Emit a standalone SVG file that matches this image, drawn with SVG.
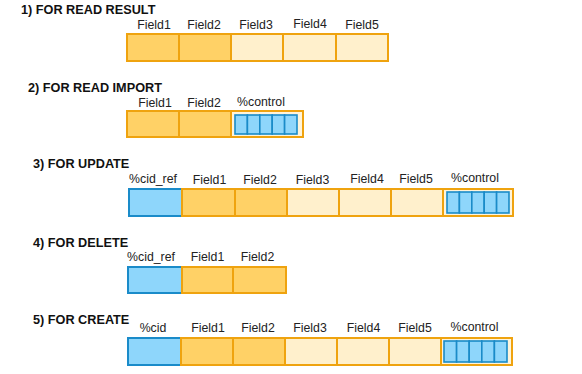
<svg xmlns="http://www.w3.org/2000/svg" width="582" height="374" viewBox="0 0 582 374">
<style>
  .title { font-family: "Liberation Sans", Arial, sans-serif; font-weight: bold; font-size: 12.7px; fill: #111; }
  .lbl { font-family: "Liberation Sans", Arial, sans-serif; font-size: 12.3px; fill: #222; text-anchor: middle; }
  .dk { fill: #FFD166; stroke: #EFA30F; stroke-width: 2; }
  .lt { fill: #FFF0CC; stroke: #EFA30F; stroke-width: 2; }
  .ctl { fill: #FFF4DA; stroke: #EFA30F; stroke-width: 2; }
  .bl { fill: #8ED6FB; stroke: #1A8BC9; stroke-width: 2; }
  .bs { fill: #8ED6FB; stroke: #1A8BC9; stroke-width: 1.6; }
</style>
<rect width="582" height="374" fill="#FFFFFF"/>

<g id="row1">
  <text class="title" x="21" y="13.5">1) FOR READ RESULT</text>
  <text class="lbl" x="154" y="29">Field1</text>
  <text class="lbl" x="204" y="29">Field2</text>
  <text class="lbl" x="256" y="29">Field3</text>
  <text class="lbl" x="310" y="28">Field4</text>
  <text class="lbl" x="362" y="29">Field5</text>
  <rect class="dk" x="127" y="34" width="52" height="27"/>
  <rect class="dk" x="179" y="34" width="52" height="27"/>
  <rect class="lt" x="231" y="34" width="52" height="27"/>
  <rect class="lt" x="283" y="34" width="53" height="27"/>
  <rect class="lt" x="336" y="34" width="52" height="27"/>
</g>

<g id="row2">
  <text class="title" x="28" y="92.3">2) FOR READ IMPORT</text>
  <text class="lbl" x="155" y="107.3">Field1</text>
  <text class="lbl" x="204" y="107.3">Field2</text>
  <text class="lbl" x="261" y="106">%control</text>
  <rect class="dk" x="127" y="111" width="52" height="26"/>
  <rect class="dk" x="179" y="111" width="52" height="26"/>
  <rect class="ctl" x="231" y="111" width="72" height="26"/>
  <rect class="bs" x="235" y="115" width="12.4" height="19"/>
  <rect class="bs" x="247.4" y="115" width="12.4" height="19"/>
  <rect class="bs" x="259.8" y="115" width="12.4" height="19"/>
  <rect class="bs" x="272.2" y="115" width="12.4" height="19"/>
  <rect class="bs" x="284.6" y="115" width="12.4" height="19"/>
</g>

<g id="row3">
  <text class="title" x="33" y="168">3) FOR UPDATE</text>
  <text class="lbl" x="153" y="183">%cid_ref</text>
  <text class="lbl" x="209.5" y="184">Field1</text>
  <text class="lbl" x="260" y="184">Field2</text>
  <text class="lbl" x="312.5" y="184">Field3</text>
  <text class="lbl" x="367" y="183">Field4</text>
  <text class="lbl" x="416" y="183">Field5</text>
  <text class="lbl" x="475" y="182">%control</text>
  <rect class="bl" x="129" y="189" width="53" height="27"/>
  <rect class="dk" x="182" y="189" width="53" height="27"/>
  <rect class="dk" x="235" y="189" width="52" height="27"/>
  <rect class="lt" x="287" y="189" width="52" height="27"/>
  <rect class="lt" x="339" y="189" width="52" height="27"/>
  <rect class="lt" x="391" y="189" width="52" height="27"/>
  <rect class="ctl" x="443" y="189" width="70" height="27"/>
  <rect class="bs" x="447" y="192" width="12.4" height="21"/>
  <rect class="bs" x="459.4" y="192" width="12.4" height="21"/>
  <rect class="bs" x="471.8" y="192" width="12.4" height="21"/>
  <rect class="bs" x="484.2" y="192" width="12.4" height="21"/>
  <rect class="bs" x="496.6" y="192" width="12.4" height="21"/>
</g>

<g id="row4">
  <text class="title" x="33" y="247">4) FOR DELETE</text>
  <text class="lbl" x="151" y="261">%cid_ref</text>
  <text class="lbl" x="207.5" y="261">Field1</text>
  <text class="lbl" x="257.5" y="261">Field2</text>
  <rect class="bl" x="128" y="267" width="54" height="26"/>
  <rect class="dk" x="182" y="267" width="51" height="26"/>
  <rect class="dk" x="233" y="267" width="53" height="26"/>
</g>

<g id="row5">
  <text class="title" x="33" y="324">5) FOR CREATE</text>
  <text class="lbl" x="153" y="332">%cid</text>
  <text class="lbl" x="208" y="332">Field1</text>
  <text class="lbl" x="258" y="332">Field2</text>
  <text class="lbl" x="310" y="332">Field3</text>
  <text class="lbl" x="363.5" y="332">Field4</text>
  <text class="lbl" x="415" y="332">Field5</text>
  <text class="lbl" x="474.5" y="331">%control</text>
  <rect class="bl" x="128" y="338" width="53" height="27"/>
  <rect class="dk" x="181" y="338" width="52" height="27"/>
  <rect class="dk" x="233" y="338" width="52" height="27"/>
  <rect class="lt" x="285" y="338" width="52" height="27"/>
  <rect class="lt" x="337" y="338" width="52" height="27"/>
  <rect class="lt" x="389" y="338" width="52" height="27"/>
  <rect class="ctl" x="441" y="338" width="71" height="27"/>
  <rect class="bs" x="444" y="341" width="12.6" height="21"/>
  <rect class="bs" x="456.6" y="341" width="12.6" height="21"/>
  <rect class="bs" x="469.2" y="341" width="12.6" height="21"/>
  <rect class="bs" x="481.8" y="341" width="12.6" height="21"/>
  <rect class="bs" x="494.4" y="341" width="12.6" height="21"/>
</g>

<g id="connectors"></g>
</svg>
